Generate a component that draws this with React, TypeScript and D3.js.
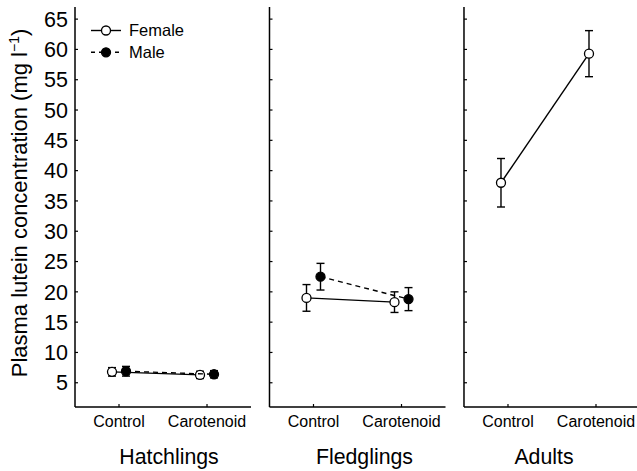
import React from 'react'
import * as d3 from 'd3'

const stages = ['Hatchlings', 'Fledglings', 'Adults']
const treatments = ['Control', 'Carotenoid']
const yTicks = [5, 10, 15, 20, 25, 30, 35, 40, 45, 50, 55, 60, 65]

// mean and error (mg l-1), per stage, per treatment
const femaleMean = [[6.8, 6.3], [19.0, 18.3], [38.0, 59.3]]
const femaleErr = [[0.7, 0.6], [2.2, 1.7], [4.0, 3.8]]
const maleMean = [[6.9, 6.4], [22.5, 18.8], null]
const maleErr = [[0.8, 0.6], [2.2, 1.9], null]

const width = 637
const height = 471
const top = 7
const bottom = 407

const y = d3.scaleLinear().domain([1, 67]).range([bottom, top])

const panel = d3
  .scaleBand()
  .domain(stages)
  .range([75, 640])
  .paddingInner(0.095)

const x = d3
  .scalePoint()
  .domain(treatments)
  .range([0, panel.bandwidth()])
  .padding(0.5)

const offset = { female: -7, male: 7 }
// titles sit a little off the panel centre in the original
const titleShift = [6, 7, -8]
const font = 'Liberation Sans, Arial, Helvetica, sans-serif'

function Series({ means, errs, dx, filled, dashed }) {
  const pts = means.map((m, i) => ({ x: x(treatments[i]) + dx, m, e: errs[i] }))
  const line = d3
    .line()
    .x(d => d.x)
    .y(d => y(d.m))
  return (
    <g>
      <path
        d={line(pts)}
        fill="none"
        stroke="#000"
        strokeWidth={1.4}
        strokeDasharray={dashed ? '5,4' : null}
      />
      {pts.map((p, i) => (
        <g key={i} stroke="#000" strokeWidth={1.4}>
          <line x1={p.x} x2={p.x} y1={y(p.m + p.e)} y2={y(p.m - p.e)} />
          <line x1={p.x - 4} x2={p.x + 4} y1={y(p.m + p.e)} y2={y(p.m + p.e)} />
          <line x1={p.x - 4} x2={p.x + 4} y1={y(p.m - p.e)} y2={y(p.m - p.e)} />
        </g>
      ))}
      {pts.map((p, i) => (
        <circle
          key={i}
          cx={p.x}
          cy={y(p.m)}
          r={4.5}
          fill={filled ? '#000' : '#fff'}
          stroke="#000"
          strokeWidth={1.3}
        />
      ))}
    </g>
  )
}

export default function App() {
  return (
    <svg width={width} height={height} style={{ display: 'block', position: 'absolute', left: 0, top: 0 }} fontFamily={font}>
      <rect width={width} height={height} fill="#fff" />
      <text
        transform={`translate(27,${(top + bottom) / 2 - 4}) rotate(-90)`}
        textAnchor="middle"
        fontSize={22}
      >
        Plasma lutein concentration (mg l
        <tspan dy={-8} fontSize={14}>−1</tspan>
        <tspan dy={8}>)</tspan>
      </text>
      {yTicks.map(t => (
        <text key={t} x={68} y={y(t)} dy="0.36em" textAnchor="end" fontSize={21.5}>
          {t}
        </text>
      ))}
      {stages.map((s, k) => {
        const x0 = panel(s)
        return (
          <g key={s} transform={`translate(${x0},0)`}>
            <line x1={0} x2={0} y1={top} y2={bottom} stroke="#000" strokeWidth={1.5} />
            <line x1={0} x2={panel.bandwidth()} y1={bottom} y2={bottom} stroke="#000" strokeWidth={1.5} />
            {yTicks.map(t => (
              <line key={t} x1={0} x2={3} y1={y(t)} y2={y(t)} stroke="#000" strokeWidth={1.2} />
            ))}
            {treatments.map(tr => (
              <g key={tr}>
                <line x1={x(tr)} x2={x(tr)} y1={bottom} y2={bottom - 3} stroke="#000" strokeWidth={1.2} />
                <text x={x(tr)} y={bottom + 20} textAnchor="middle" fontSize={16}>
                  {tr}
                </text>
              </g>
            ))}
            <text x={panel.bandwidth() / 2 + titleShift[k]} y={bottom + 57} textAnchor="middle" fontSize={21.3}>
              {s}
            </text>
            <Series means={femaleMean[k]} errs={femaleErr[k]} dx={offset.female} filled={false} dashed={false} />
            {maleMean[k] && (
              <Series means={maleMean[k]} errs={maleErr[k]} dx={offset.male} filled={true} dashed={true} />
            )}
          </g>
        )
      })}
      <g>
        <line x1={91} x2={121} y1={30.5} y2={30.5} stroke="#000" strokeWidth={1.4} />
        <circle cx={106} cy={30.5} r={4.5} fill="#fff" stroke="#000" strokeWidth={1.3} />
        <text x={129} y={30.5} dy="0.36em" fontSize={16.5}>Female</text>
        <line x1={91} x2={119} y1={52.3} y2={52.3} stroke="#000" strokeWidth={1.4} strokeDasharray="4,4" />
        <circle cx={106} cy={52.3} r={4.5} fill="#000" stroke="#000" strokeWidth={1.3} />
        <text x={129} y={52.3} dy="0.36em" fontSize={16.5}>Male</text>
      </g>
    </svg>
  )
}
